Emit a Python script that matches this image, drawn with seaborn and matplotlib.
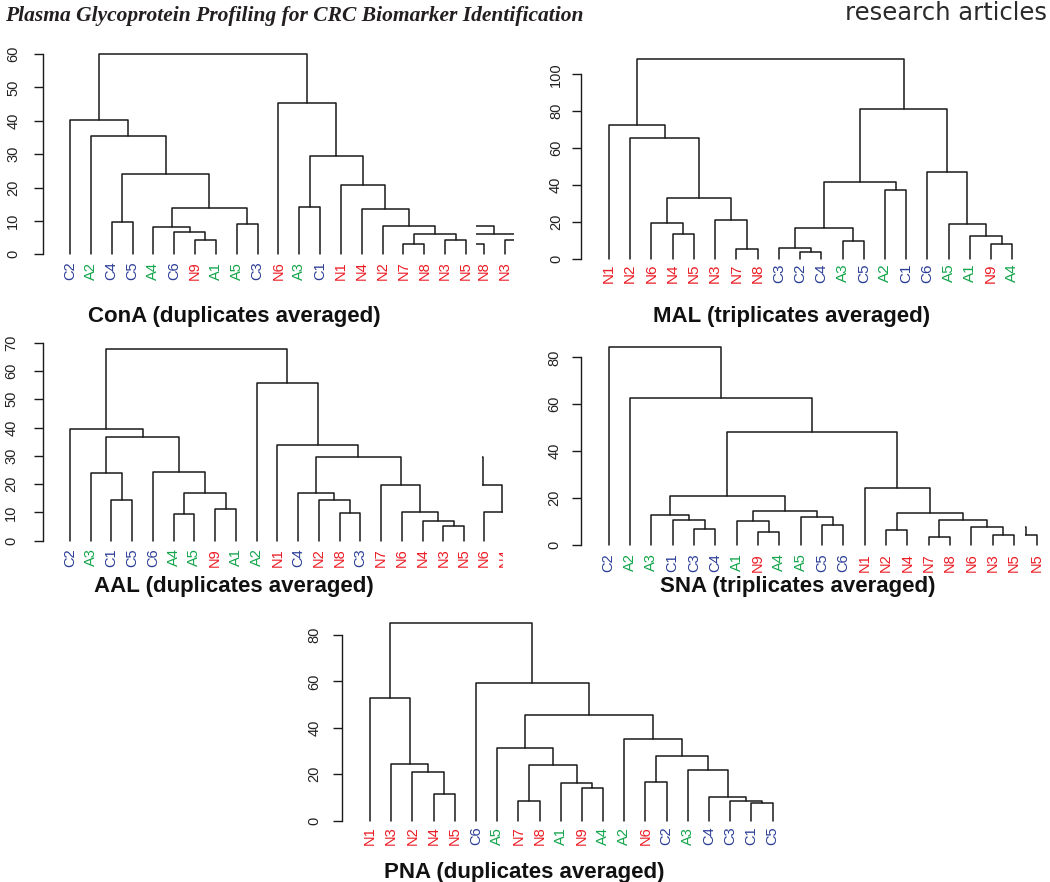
import matplotlib
matplotlib.use("Agg")
import matplotlib.pyplot as plt
import pandas as pd
import seaborn as sns
from matplotlib.patches import Rectangle
from matplotlib.transforms import offset_copy

# ---- dendrogram data (R hclust style: negative = leaf position, positive = earlier merge row)
conA_labels = ["C2", "A2", "C4", "C5", "A4", "C6", "N9", "A1", "A5", "C3",
               "N6", "A3", "C1", "N1", "N4", "N2", "N7", "N8", "N3", "N5"]
conA_merge = [(-17, -18), (-7, -8), (-19, -20), (1, 3), (-6, 2), (-5, 5), (-16, 4),
              (-9, -10), (-3, -4), (-15, 7), (6, 8), (-12, -13), (-14, 10), (9, 11),
              (12, 13), (-2, 14), (-1, 16), (-11, 15), (17, 18)]
conA_height = [3.2, 4.2, 4.4, 6.1, 6.7, 8.3, 8.6, 9.0, 9.6, 13.6, 14.0, 14.2, 20.9,
               23.9, 29.5, 35.4, 40.2, 45.3, 60.0]

mal_labels = ["N1", "N2", "N6", "N4", "N5", "N3", "N7", "N8", "C3", "C2",
              "C4", "A3", "C5", "A2", "C1", "C6", "A5", "A1", "N9", "A4"]
mal_merge = [(-10, -11), (-7, -8), (-9, 1), (-19, -20), (-12, -13), (-18, 4), (-4, -5),
             (3, 5), (-17, 6), (-3, 7), (-6, 2), (10, 11), (-14, -15), (8, 13),
             (-16, 9), (-2, 12), (-1, 16), (14, 15), (17, 18)]
mal_height = [3.8, 5.6, 6.1, 8.5, 10.1, 12.8, 13.5, 16.9, 19.3, 19.6, 21.1, 33.3,
              37.3, 42.0, 47.2, 65.4, 72.4, 81.1, 108.5]

aal_labels = ["C2", "A3", "C1", "C5", "C6", "A4", "A5", "N9", "A1", "A2",
              "N1", "C4", "N2", "N8", "C3", "N7", "N6", "N4", "N3", "N5"]
aal_merge = [(-19, -20), (-18, 1), (-6, -7), (-14, -15), (-17, 2), (-8, -9), (-3, -4),
             (-13, 4), (-12, 8), (3, 6), (-16, 5), (-2, 7), (-5, 10), (9, 11),
             (-11, 14), (12, 13), (-1, 16), (-10, 15), (17, 18)]
aal_height = [5.1, 6.8, 9.4, 9.8, 10.0, 11.2, 14.4, 14.4, 16.7, 17.0, 19.7, 24.1,
              24.2, 29.6, 34.0, 36.8, 39.6, 55.7, 67.8]

sna_labels = ["C2", "A2", "A3", "C1", "C3", "C4", "A1", "N9", "A4", "A5",
              "C5", "C6", "N1", "N2", "N4", "N7", "N8", "N6", "N3", "N5"]
sna_merge = [(-16, -17), (-19, -20), (-8, -9), (-14, -15), (-5, -6), (-18, 2), (-11, -12),
             (-7, 3), (1, 6), (-4, 5), (-10, 7), (-3, 10), (4, 9), (8, 11),
             (12, 14), (-13, 13), (15, 16), (-2, 17), (-1, 18)]
sna_height = [3.4, 4.3, 5.4, 6.4, 6.8, 7.8, 8.4, 10.2, 10.5, 10.6, 12.0, 13.0, 13.7,
              14.6, 20.8, 24.4, 48.2, 62.8, 84.6]

pna_labels = ["N1", "N3", "N2", "N4", "N5", "C6", "A5", "N7", "N8", "A1",
              "N9", "A4", "A2", "N6", "C2", "A3", "C4", "C3", "C1", "C5"]
pna_merge = [(-19, -20), (-18, 1), (-8, -9), (-17, 2), (-4, -5), (-11, -12), (-10, 6),
             (-14, -15), (-3, 5), (-16, 4), (3, 7), (-2, 9), (8, 10), (-7, 11),
             (-13, 13), (14, 15), (-1, 12), (-6, 16), (17, 18)]
pna_height = [7.5, 8.5, 8.6, 10.3, 11.5, 13.9, 16.4, 16.8, 20.8, 22.0, 24.0, 24.4,
              27.7, 31.2, 35.3, 45.4, 53.0, 59.3, 85.2]

group_colors = {"N": "#ec1c24", "A": "#12a54a", "C": "#2b3e98"}

W, H = 1050, 882
sns.set_style("white")
plt.rcParams["font.family"] = ["Liberation Sans", "DejaVu Sans"]
fig = plt.figure(figsize=(W / 100, H / 100), dpi=100)


def segments(merge, height, shift=0.0):
    xs = []
    rows = []
    for i, (a, b) in enumerate(merge):
        xa = -a if a < 0 else xs[a - 1]
        xb = -b if b < 0 else xs[b - 1]
        ha = 0.0 if a < 0 else height[a - 1]
        hb = 0.0 if b < 0 else height[b - 1]
        h = height[i]
        for x, y in [(xa, ha), (xa, h), (xb, h), (xb, hb)]:
            rows.append({"seg": i, "x": x + shift, "y": y})
        xs.append((xa + xb) / 2)
    return pd.DataFrame(rows)


# pixel layout of each panel
# frag = (shift, line clip left, label clip left, clip right) in leaf units
panels = [
    dict(labels=conA_labels, merge=conA_merge, height=conA_height,
         spine=42.7, leaf1=70.0, dx=20.84, y0=254.3, ppu=3.339, top=60, step=10,
         gap=7.4, pad=9.4, lsize=10.5, frag=(2.85, 20.5, 20.5, 22.3),
         title="ConA (duplicates averaged)", tx=234, ty=322),
    dict(labels=mal_labels, merge=mal_merge, height=mal_height,
         spine=581.0, leaf1=609.0, dx=21.23, y0=259.3, ppu=1.85, top=100, step=20,
         gap=4.0, pad=6.2, lsize=11, frag=None,
         title="MAL (triplicates averaged)", tx=792, ty=322),
    dict(labels=aal_labels, merge=aal_merge, height=aal_height,
         spine=42.7, leaf1=70.0, dx=20.74, y0=540.7, ppu=2.829, top=70, step=10,
         gap=7.6, pad=10.8, lsize=10.5, frag=(3.97, 20.85, 20.6, 21.9),
         title="AAL (duplicates averaged)", tx=234, ty=592),
    dict(labels=sna_labels, merge=sna_merge, height=sna_height,
         spine=581.0, leaf1=608.7, dx=21.33, y0=545.0, ppu=2.346, top=80, step=20,
         gap=8.3, pad=7.2, lsize=10.5, frag=(1.06, 20.5, 20.5, 21.5),
         title="SNA (triplicates averaged)", tx=798, ty=592),
    dict(labels=pna_labels, merge=pna_merge, height=pna_height,
         spine=342.3, leaf1=370.0, dx=21.19, y0=820.7, ppu=2.321, top=80, step=20,
         gap=6.0, pad=8.0, lsize=10.5, frag=None,
         title="PNA (duplicates averaged)", tx=524, ty=878),
]

for p in panels:
    n = len(p["labels"])
    hmax = max(p["height"])
    left_px = p["spine"]
    right_px = p["leaf1"] + (n + 2.6) * p["dx"]
    bottom_px = p["y0"] + 3
    top_px = p["y0"] - (hmax + 3) * p["ppu"] - 2
    ax = fig.add_axes([left_px / W, 1 - bottom_px / H,
                       (right_px - left_px) / W, (bottom_px - top_px) / H])

    def pos(px):
        return 1 + (px - p["leaf1"]) / p["dx"]

    ax.set_xlim(pos(left_px), pos(right_px))
    ax.set_ylim(-3 / p["ppu"], (p["y0"] - top_px) / p["ppu"])

    seg = segments(p["merge"], p["height"])
    sns.lineplot(data=seg, x="x", y="y", units="seg", estimator=None, sort=False,
                 color="#1a1a1a", linewidth=1.1, legend=False, ax=ax)

    lab_tr = offset_copy(ax.transData, y=-p["gap"], units="dots")
    for i, lab in enumerate(p["labels"]):
        ax.text(i + 1, 0, lab, transform=lab_tr, rotation=90, ha="center", va="top",
                fontsize=p["lsize"], color=group_colors[lab[0]])

    # overlapping clipped copy of the tree seen at the right edge of some panels
    if p["frag"] is not None:
        shift, lo, lo_lab, hi = p["frag"]
        clip = Rectangle((lo, -1000), hi - lo, 3000, transform=ax.transData)
        clip_lab = Rectangle((lo_lab, -1000), hi - lo_lab, 3000, transform=ax.transData)
        n_before = len(ax.lines)
        fseg = segments(p["merge"], p["height"], shift)
        sns.lineplot(data=fseg, x="x", y="y", units="seg", estimator=None, sort=False,
                     color="#1a1a1a", linewidth=1.1, legend=False, ax=ax)
        for ln in ax.lines[n_before:]:
            ln.set_clip_path(clip)
        for i, lab in enumerate(p["labels"]):
            xp = i + 1 + shift
            if xp < lo_lab - 0.3 or xp > hi + 0.3:
                continue
            t = ax.text(xp, 0, lab, transform=lab_tr, rotation=90,
                        ha="center", va="top", fontsize=p["lsize"],
                        color=group_colors[lab[0]], clip_on=True)
            t.set_clip_path(clip_lab)

    ticks = list(range(0, p["top"] + 1, p["step"]))
    ax.set_yticks(ticks)
    ax.set_yticklabels([str(t) for t in ticks])
    ax.set_xticks([])
    ax.set_xlabel("")
    ax.set_ylabel("")
    ax.tick_params(axis="y", left=True, length=6.8, width=1.0, pad=p["pad"],
                   labelsize=10.5, labelrotation=90, color="#1a1a1a", labelcolor="#222222")
    for t in ax.get_yticklabels():
        t.set_va("center")
    sns.despine(ax=ax, top=True, right=True, bottom=True)
    ax.spines["left"].set_bounds(0, p["top"])
    ax.spines["left"].set_linewidth(1.0)
    ax.spines["left"].set_color("#1a1a1a")
    ax.patch.set_alpha(0)

    fig.text(p["tx"] / W, 1 - p["ty"] / H, p["title"], ha="center", va="baseline",
             fontsize=16, fontweight="bold", color="#111111")

fig.text(5 / W, 1 - 20.5 / H, "Plasma Glycoprotein Profiling for CRC Biomarker Identification",
         ha="left", va="baseline", fontsize=15.5, fontweight="bold", fontstyle="italic",
         family=["Liberation Serif", "DejaVu Serif"], color="#231f20")
fig.text(1047 / W, 1 - 20.5 / H, "research articles", ha="right", va="baseline",
         fontsize=17.5, family=["DejaVu Sans"], color="#2a2a2a")

fig.savefig("out.png", dpi=100)
